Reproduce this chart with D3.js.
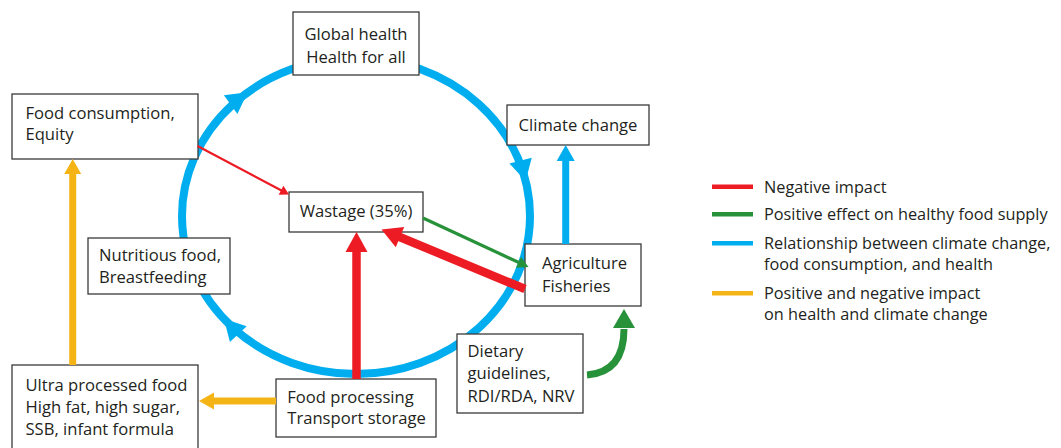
<!DOCTYPE html>
<html><head><meta charset="utf-8">
<script src="https://cdn.jsdelivr.net/npm/d3@7/dist/d3.min.js"></script>
<style>body{margin:0;background:#fff}svg{display:block}</style>
</head><body>
<svg id="c" width="1061" height="448"></svg>
<script>
// ---------- data ----------
const nodeIds = ["global","consumption","climate","wastage","agriculture","nutritious","dietary","ultra","processing"];
const nodeLabels = [
  ["Global health","Health for all"],
  ["Food consumption,","Equity"],
  ["Climate change"],
  ["Wastage (35%)"],
  ["Agriculture","Fisheries"],
  ["Nutritious food,","Breastfeeding"],
  ["Dietary","guidelines,","RDI/RDA, NRV"],
  ["Ultra processed food","High fat, high sugar,","SSB, infant formula"],
  ["Food processing","Transport storage"]
];
const linkTypes = ["negative","positive","relationship","mixed"];
const legendLabels = [
  ["Negative impact"],
  ["Positive effect on healthy food supply"],
  ["Relationship between climate change,","food consumption, and health"],
  ["Positive and negative impact","on health and climate change"]
];
// links: source, target, kind, weight
const linkSources = ["consumption","agriculture","processing","wastage","dietary","agriculture","ultra","processing"];
const linkTargets = ["wastage","wastage","wastage","agriculture","agriculture","climate","consumption","ultra"];
const linkKinds   = ["negative","negative","negative","positive","positive","relationship","mixed","mixed"];
const linkWeights = ["thin","thick","thick","thin","thick","medium","medium","medium"];
// clockwise cycle arrowheads (degrees on the ring)
const cycleArrowAngles = [-128.5, -12.8, 139.4];

// ---------- layout & style ----------
const color = d3.scaleOrdinal().domain(linkTypes).range(["#ed1c24","#27923a","#00aeef","#f4b416"]);
const textColor = "#231f20";
const font = "'Open Sans', 'Noto Sans', sans-serif";
const boxFontSize = 16.6;
const legendFontSize = 16.3;
const boxes = {
  global:      {x:293, y:12,  w:126, h:63, anchor:"middle", tx:356,   ty:40,    lh:22.7},
  consumption: {x:12,  y:94,  w:186, h:65, anchor:"start",  tx:25.5,  ty:119.3, lh:21},
  climate:     {x:507, y:105, w:142, h:40, anchor:"middle", tx:578,   ty:131,   lh:22},
  wastage:     {x:289, y:192, w:134, h:40, anchor:"middle", tx:356,   ty:216.7, lh:22},
  agriculture: {x:525, y:244, w:116, h:62, anchor:"start",  tx:542,   ty:269.3, lh:22.4},
  nutritious:  {x:88,  y:238, w:142, h:56, anchor:"start",  tx:99,    ty:260.7, lh:22.6},
  dietary:     {x:457, y:334, w:126, h:79, anchor:"start",  tx:467.5, ty:356.7, lh:22.5},
  ultra:       {x:12,  y:365, w:186, h:95, anchor:"start",  tx:25.5,  ty:390.7, lh:22.2},
  processing:  {x:276, y:379, w:160, h:58, anchor:"start",  tx:287.3, ty:403.3, lh:21}
};
const ring = {cx:356, cy:216, rx:174, ry:158, w:8};
// geometry per link (same order as link arrays)
const linkGeom = [
  {p:[[197.5,146],[289,194.5]]},
  {p:[[525,289],[381.5,229.5]]},
  {p:[[356.5,379],[356.5,232]]},
  {p:[[423,218],[528.5,267]]},
  {curve:[[587,375],[613,373],[624,356],[624,328]], tip:[624,309]},
  {p:[[565.7,244],[565.7,145]]},
  {p:[[72.7,365],[72.7,159]]},
  {p:[[276,401],[199,401]]}
];
const weightStyle = {
  thin:   {w:2.2, hl:9,  hw:5},
  medium: {w:7,   hl:15, hw:8.5},
  thick:  {w:8.5, hl:20, hw:11}
};
const legendX = [712, 753, 764];
const legendY = [186.7, 214.3, 243.3, 293.3];
const legendLineGap = 21.2;

// ---------- drawing ----------
const svg = d3.select("#c");
const gRing = svg.append("g");
const gBoxes = svg.append("g");
const gLinks = svg.append("g");
const gLegend = svg.append("g");

function head(g, tip, dir, hl, hw, fill) {
  const [ux, uy] = dir, nx = -uy, ny = ux;
  const bx = tip[0] - ux*hl, by = tip[1] - uy*hl;
  g.append("path")
    .attr("d", `M${tip[0]},${tip[1]}L${bx+nx*hw},${by+ny*hw}L${bx-nx*hw},${by-ny*hw}Z`)
    .attr("fill", fill);
}

// ring
const blue = color("relationship");
gRing.append("ellipse")
  .attr("cx", ring.cx).attr("cy", ring.cy).attr("rx", ring.rx).attr("ry", ring.ry)
  .attr("fill","none").attr("stroke", blue).attr("stroke-width", ring.w);
cycleArrowAngles.forEach(a => {
  const t = a*Math.PI/180;
  const tip = [ring.cx + ring.rx*Math.cos(t), ring.cy + ring.ry*Math.sin(t)];
  const dx = -ring.rx*Math.sin(t), dy = ring.ry*Math.cos(t);
  const L = Math.hypot(dx, dy);
  head(gRing, tip, [dx/L, dy/L], 21, 11.5, blue);
});

// boxes
nodeIds.forEach((id, i) => {
  const b = boxes[id];
  gBoxes.append("rect")
    .attr("x", b.x).attr("y", b.y).attr("width", b.w).attr("height", b.h)
    .attr("fill", "#fff").attr("stroke", "#3a3a3a").attr("stroke-width", 1.3);
  const t = gBoxes.append("text")
    .attr("font-family", font).attr("font-size", boxFontSize).attr("fill", textColor)
    .attr("text-anchor", b.anchor);
  nodeLabels[i].forEach((line, k) => {
    t.append("tspan").attr("x", b.tx).attr("y", b.ty + k*b.lh).text(line);
  });
});

// links
linkKinds.forEach((kind, i) => {
  const c = color(kind);
  const s = weightStyle[linkWeights[i]];
  const geo = linkGeom[i];
  if (geo.curve) {
    const [p0,p1,p2,p3] = geo.curve;
    const path = d3.path();
    path.moveTo(p0[0],p0[1]);
    path.bezierCurveTo(p1[0],p1[1],p2[0],p2[1],p3[0],p3[1]+1);
    gLinks.append("path").attr("d", path.toString())
      .attr("fill","none").attr("stroke", c).attr("stroke-width", 7);
    const dx = geo.tip[0]-p3[0], dy = geo.tip[1]-p3[1], L = Math.hypot(dx,dy);
    head(gLinks, geo.tip, [dx/L, dy/L], L, 11, c);
  } else {
    const [a, b] = geo.p;
    const dx = b[0]-a[0], dy = b[1]-a[1], L = Math.hypot(dx, dy);
    const ux = dx/L, uy = dy/L;
    let {w, hl, hw} = s;
    if (kind === "positive" && linkWeights[i] === "thin") { w = 3.2; hl = 11; hw = 6; }
    if (kind === "relationship") { hl = 16; hw = 9; }
    gLinks.append("line")
      .attr("x1", a[0]).attr("y1", a[1])
      .attr("x2", b[0]-ux*(hl-1)).attr("y2", b[1]-uy*(hl-1))
      .attr("stroke", c).attr("stroke-width", w);
    head(gLinks, b, [ux, uy], hl, hw, c);
  }
});

// legend
linkTypes.forEach((kind, i) => {
  const y = legendY[i];
  gLegend.append("line")
    .attr("x1", legendX[0]).attr("x2", legendX[1]).attr("y1", y).attr("y2", y)
    .attr("stroke", color(kind)).attr("stroke-width", 4.5);
  const t = gLegend.append("text")
    .attr("font-family", font).attr("font-size", legendFontSize).attr("fill", textColor);
  legendLabels[i].forEach((line, k) => {
    t.append("tspan").attr("x", legendX[2]).attr("y", y + 5.8 + k*legendLineGap).text(line);
  });
});
</script>
</body></html>
